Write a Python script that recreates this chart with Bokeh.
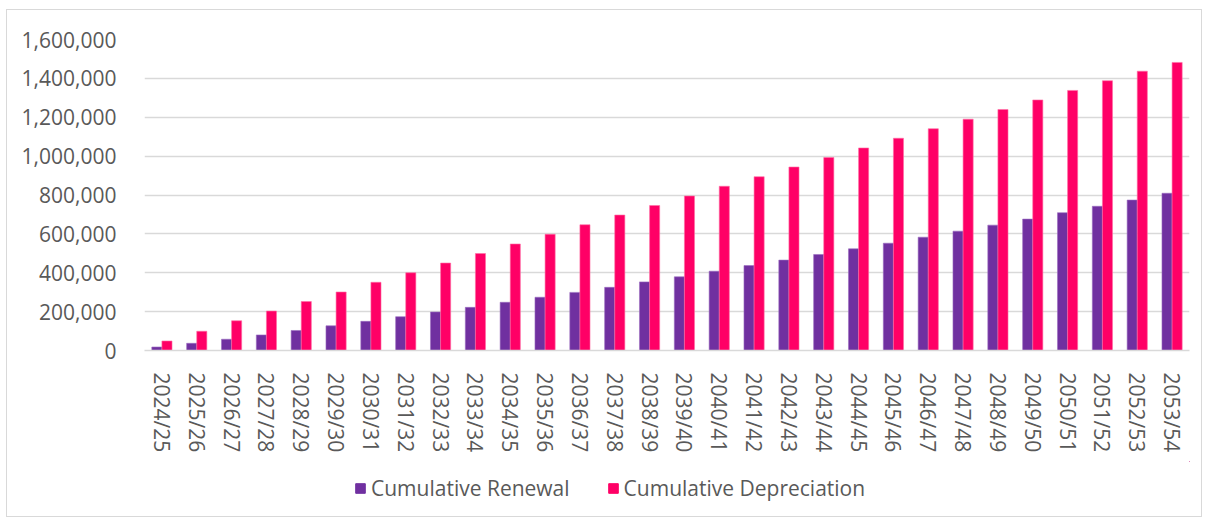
from bokeh.plotting import figure
from bokeh.models import ColumnDataSource, FactorRange, NumeralTickFormatter, Legend, LegendItem
from bokeh.layouts import column
from bokeh.transform import dodge
from bokeh.embed import file_html
from bokeh.resources import INLINE

years = ["2024/25", "2025/26", "2026/27", "2027/28", "2028/29", "2029/30", "2030/31",
         "2031/32", "2032/33", "2033/34", "2034/35", "2035/36", "2036/37", "2037/38",
         "2038/39", "2039/40", "2040/41", "2041/42", "2042/43", "2043/44", "2044/45",
         "2045/46", "2046/47", "2047/48", "2048/49", "2049/50", "2050/51", "2051/52",
         "2052/53", "2053/54"]
renewal = [18000, 37000, 58000, 80000, 103000, 127000, 150000, 174000, 198000, 222000,
           248000, 274000, 299000, 325000, 353000, 379000, 408000, 437000, 465000, 494000,
           523000, 552000, 583000, 614000, 645000, 676000, 709000, 742000, 774000, 809000]
depreciation = [49000, 99000, 153000, 203000, 252000, 301000, 351000, 400000, 450000, 499000,
                548000, 598000, 647000, 697000, 746000, 795000, 845000, 894000, 944000, 993000,
                1042000, 1092000, 1141000, 1190000, 1240000, 1289000, 1338000, 1388000, 1437000, 1482000]
y_ticks = [0, 200000, 400000, 600000, 800000, 1000000, 1200000, 1400000, 1600000]
series_names = ["Cumulative Renewal", "Cumulative Depreciation"]

src = ColumnDataSource(dict(year=years, renewal=renewal, depreciation=depreciation))

FONT = "Open Sans"
TXT = "#595959"
C_REN = "#7030A0"
C_DEP = "#FF0066"

p = figure(x_range=FactorRange(*years, range_padding=0), y_range=(0, 1600000),
           width=1194, height=451, output_backend="svg", toolbar_location=None,
           min_border_left=137, min_border_right=12, min_border_top=29, min_border_bottom=111)
p.outline_line_color = None
p.background_fill_color = "white"

p.vbar(x=dodge("year", -0.145, range=p.x_range), top="renewal", width=0.29,
       source=src, fill_color=C_REN, line_color="#9B6BC0", line_width=0.6)
p.vbar(x=dodge("year", 0.145, range=p.x_range), top="depreciation", width=0.29,
       source=src, fill_color=C_DEP, line_color="#FF6FA5", line_width=0.6)

p.yaxis.ticker = y_ticks
p.yaxis.formatter = NumeralTickFormatter(format="0,0")
p.yaxis.axis_line_color = None
p.yaxis.major_tick_line_color = None
p.yaxis.minor_tick_line_color = None
p.yaxis.major_label_standoff = 22
p.yaxis.major_label_text_font = FONT
p.yaxis.major_label_text_font_size = "21px"
p.yaxis.major_label_text_color = TXT

p.xaxis.axis_line_color = "#D9D9D9"
p.xaxis.axis_line_width = 1.5
p.xaxis.major_tick_line_color = None
p.xaxis.minor_tick_line_color = None
p.xaxis.major_label_orientation = -1.5708
p.xaxis.major_label_standoff = 16
p.xaxis.major_label_text_font = FONT
p.xaxis.major_label_text_font_size = "21px"
p.xaxis.major_label_text_color = TXT

p.xgrid.grid_line_color = None
p.ygrid.grid_line_color = "#D9D9D9"
p.ygrid.grid_line_width = 1.5

# legend strip below the chart
lg = figure(width=1194, height=55, output_backend="svg", toolbar_location=None,
            x_range=(0, 1), y_range=(0, 1), x_axis_location=None, y_axis_location=None,
            min_border=0)
lg.outline_line_color = None
lg.xgrid.grid_line_color = None
lg.ygrid.grid_line_color = None
d1 = lg.vbar(x=[5], top=[5], bottom=[4], width=0.1, fill_color=C_REN, line_color=C_REN)
d2 = lg.vbar(x=[5], top=[5], bottom=[4], width=0.1, fill_color=C_DEP, line_color=C_DEP)
legend = Legend(items=[LegendItem(label=series_names[0], renderers=[d1]),
                       LegendItem(label=series_names[1], renderers=[d2])],
                orientation="horizontal", location=(210, 14),
                glyph_width=12, glyph_height=12, spacing=37, label_standoff=5,
                label_text_font=FONT, label_text_font_size="21px", label_text_color=TXT,
                border_line_color=None, background_fill_alpha=0, padding=0, margin=0)
lg.add_layout(legend, "center")

layout = column(p, lg, spacing=0, margin=(9, 0, 0, 6))
layout.styles = {"border": "1px solid #d9d9d9"}

open("out.html", "w").write(file_html(layout, INLINE))
